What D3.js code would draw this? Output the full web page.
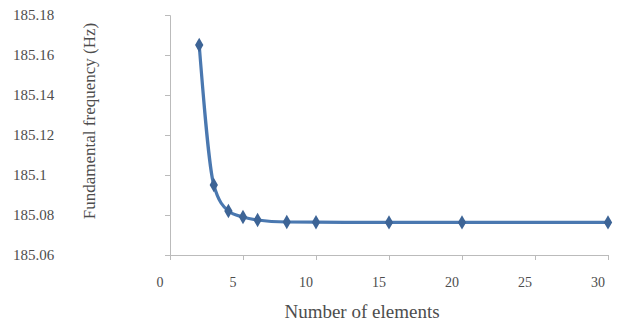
<!DOCTYPE html>
<html>
<head>
<meta charset="utf-8">
<script src="https://cdn.jsdelivr.net/npm/d3@7"></script>
<style>
  body { margin: 0; background: #fff; }
  text { font-family: "Liberation Serif", "DejaVu Serif", serif; fill: #4d4d4d; }
</style>
</head>
<body>
<svg width="621" height="325"></svg>
<script>
// Data
var elements = [2, 3, 4, 5, 6, 8, 10, 15, 20, 30];
var frequency = [185.165, 185.095, 185.082, 185.079, 185.0775, 185.0765, 185.0764, 185.0763, 185.0763, 185.0763];
var yTicks = [185.06, 185.08, 185.1, 185.12, 185.14, 185.16, 185.18];
var xTicks = [0, 5, 10, 15, 20, 25, 30];

var svg = d3.select("svg"),
    margin = {top: 15, right: 13, bottom: 70, left: 170},
    width = 621 - margin.left - margin.right,
    height = 325 - margin.top - margin.bottom,
    g = svg.append("g")
      .attr("transform", "translate(" + margin.left + "," + margin.top + ")");

var x = d3.scaleLinear().domain([0, 30]).range([0, width]),
    y = d3.scaleLinear().domain([185.06, 185.18]).range([height, 0]);

// Y axis: ticks on the axis, labels pushed far left (as in the picture)
var yAxis = g.append("g")
    .call(d3.axisLeft(y).tickValues(yTicks).tickSize(5).tickFormat(""));
yAxis.select(".domain").attr("stroke", "#bbb");
yAxis.selectAll(".tick line").attr("stroke", "#bbb");

g.selectAll(".ylab")
  .data(yTicks)
  .enter().append("text")
    .attr("class", "ylab")
    .attr("x", 13 - margin.left)
    .attr("y", function(d) { return y(d); })
    .attr("dy", "0.35em")
    .style("font-size", "15px")
    .text(function(d) { return String(+d.toFixed(2)); });

// X axis
var xAxis = g.append("g")
    .attr("transform", "translate(0," + height + ")")
    .call(d3.axisBottom(x).tickValues(xTicks).tickSize(5).tickFormat(""));
xAxis.select(".domain").attr("stroke", "#bbb");
xAxis.selectAll(".tick line").attr("stroke", "#bbb");

g.selectAll(".xlab")
  .data(xTicks)
  .enter().append("text")
    .attr("class", "xlab")
    .attr("x", function(d) { return x(d) - 10; })
    .attr("y", height + 32)
    .attr("text-anchor", "middle")
    .style("font-size", "14px")
    .text(function(d) { return d; });

// Axis titles
g.append("text")
    .attr("x", 192)
    .attr("y", height + 63)
    .attr("text-anchor", "middle")
    .style("font-size", "19px")
    .text("Number of elements");

g.append("text")
    .attr("transform", "rotate(-90)")
    .attr("x", -106)
    .attr("y", -75)
    .attr("text-anchor", "middle")
    .style("font-size", "17px")
    .text("Fundamental frequency (Hz)");

// Line
var pts = elements.map(function(d, i) { return [d, frequency[i]]; });
var line = d3.line()
    .x(function(d) { return x(d[0]); })
    .y(function(d) { return y(d[1]); })
    .curve(d3.curveMonotoneX);

g.append("path")
    .datum(pts)
    .attr("fill", "none")
    .attr("stroke", "#4a78b0")
    .attr("stroke-width", 3.2)
    .attr("d", line);

// Diamond markers
g.selectAll(".pt")
  .data(pts)
  .enter().append("path")
    .attr("class", "pt")
    .attr("transform", function(d) { return "translate(" + x(d[0]) + "," + y(d[1]) + ")"; })
    .attr("d", d3.symbol().type(d3.symbolDiamond).size(60))
    .attr("fill", "#3d6496");
</script>
</body>
</html>
